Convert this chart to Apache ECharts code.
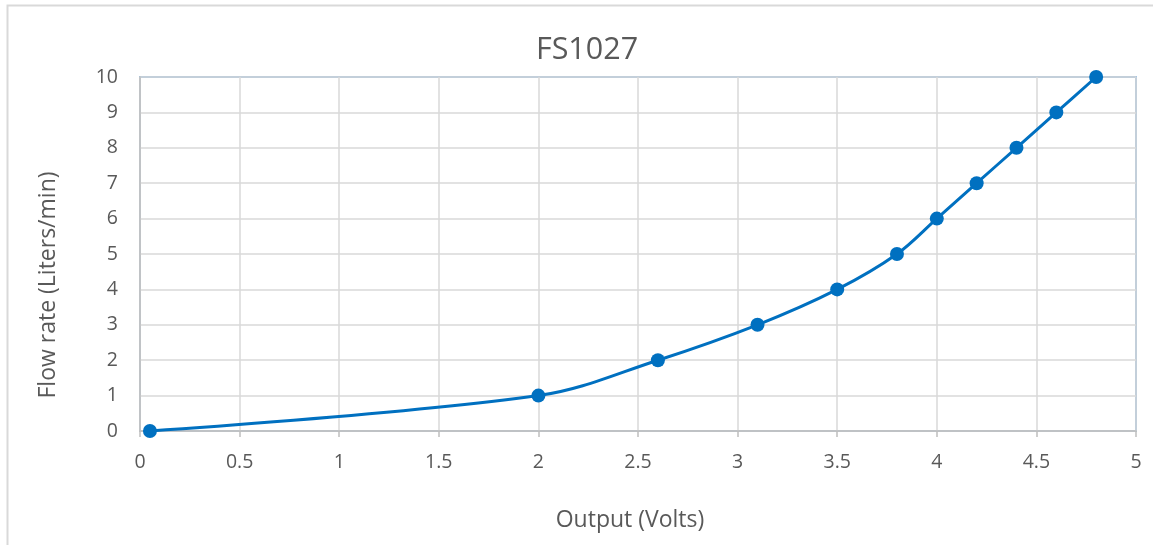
<!DOCTYPE html>
<html><head><meta charset="utf-8">
<script src="https://cdn.jsdelivr.net/npm/echarts@6/dist/echarts.min.js"></script>
<style>html,body{margin:0;padding:0;background:#fff}#c{width:1153px;height:545px}</style>
</head><body><div id="c"></div>
<script>
const title = 'FS1027';
const xName = 'Output (Volts)';
const yName = 'Flow rate (Liters/min)';
const volts = [0.05, 2, 2.6, 3.1, 3.5, 3.8, 4, 4.2, 4.4, 4.6, 4.8];
const flow  = [0, 1, 2, 3, 4, 5, 6, 7, 8, 9, 10];

const font = '"Open Sans", "Noto Sans", sans-serif';
const chart = echarts.init(document.getElementById('c'));
chart.setOption({
  animation: false,
  graphic: [{type:'rect', shape:{x:7.5, y:5.5, width:1200, height:600}, style:{fill:'none', stroke:'#d9d9d9', lineWidth:2}, silent:true}],
  title: {text: title, left: 582, top: 30, textAlign:'center',
    textStyle:{fontFamily:font, fontSize:30.5, fontWeight:'normal', color:'#595959'}},
  grid: {left:140, right:17, top:77, bottom:114, show:true, borderColor:'#5b9bd5', borderWidth:1.5},
  xAxis: {type:'value', min:0, max:5, interval:0.5, name:xName, nameLocation:'middle', nameGap:78,
    nameTextStyle:{fontFamily:font, fontSize:23, color:'#595959', padding:[0,16,0,0]},
    axisLine:{show:true, lineStyle:{color:'#bfbfbf', width:1.5}},
    axisTick:{show:true, length:6, lineStyle:{color:'#bfbfbf', width:1.5}},
    axisLabel:{fontFamily:font, fontSize:19.5, color:'#595959', margin:21},
    splitLine:{lineStyle:{color:'#d9d9d9', width:1.5}}},
  yAxis: {type:'value', min:0, max:10, interval:1, name:yName, nameLocation:'middle', nameGap:80,
    nameTextStyle:{fontFamily:font, fontSize:23, color:'#595959', padding:[0,62,0,0]},
    axisLine:{show:true, lineStyle:{color:'#bfbfbf', width:1.5}},
    axisTick:{show:false},
    axisLabel:{fontFamily:font, fontSize:19.5, color:'#595959', margin:22},
    splitLine:{lineStyle:{color:'#d9d9d9', width:1.5}}},
  series: [{type:'line', data: volts.map((v,i)=>[v, flow[i]]), smooth:0.35,
    symbol:'circle', symbolSize:14, clip:false,
    lineStyle:{color:'#0070c0', width:3}, itemStyle:{color:'#0070c0'}}]
});
</script></body></html>
